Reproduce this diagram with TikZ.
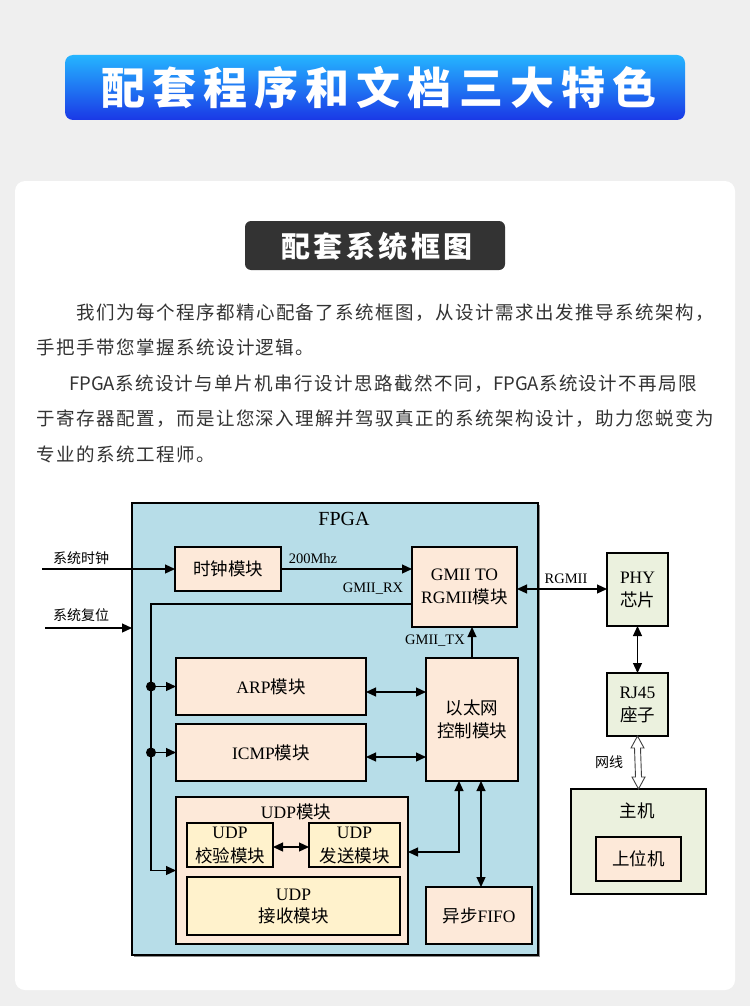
\documentclass[tikz,border=0pt]{standalone}
\usepackage{fontspec}
\setmainfont{Liberation Serif}
\newfontfamily\cjk{Noto Sans CJK SC}
\newfontfamily\cjkpara[LetterSpace=8]{Noto Sans CJK SC}
\newfontfamily\cjktitle[LetterSpace=16]{Noto Sans CJK SC}
\newfontfamily\cjksub[LetterSpace=12]{Noto Sans CJK SC}
\usetikzlibrary{arrows.meta,calc}
\definecolor{pagebg}{HTML}{EFEFEF}
\definecolor{fpgabg}{HTML}{B7DDE8}
\definecolor{peach}{HTML}{FDE9D9}
\definecolor{cream}{HTML}{FFF2CC}
\definecolor{sage}{HTML}{EBF1DE}
\definecolor{bluetop}{HTML}{25B5FF}
\definecolor{bluebot}{HTML}{1A38E6}
\definecolor{darkbox}{HTML}{333333}
\definecolor{txt}{HTML}{333333}
\begin{document}
\begin{tikzpicture}[x=1pt,y=-1pt,
  box/.style={draw=black, line width=1.2pt, inner sep=0pt, outer sep=0pt, align=center,
    font=\fontsize{17.5}{23}\selectfont, text=black},
  mod/.style={box, fill=peach},
  subm/.style={box, fill=cream},
  ext/.style={box, fill=sage},
  lbl/.style={font=\fontsize{14.5}{16}\selectfont, inner sep=0pt, text=black},
  para/.style={font=\cjkpara\fontsize{18.5}{20}\selectfont, text=txt, inner sep=0pt, anchor=base west},
  conn/.style={line width=1.2pt},
  arr/.style={conn, -{Triangle[length=10pt,width=9pt]}},
  darr/.style={conn, {Triangle[length=10pt,width=9pt]}-{Triangle[length=10pt,width=9pt]}},
  dotn/.style={circle, fill=black, inner sep=0pt, minimum size=10pt}
]
\useasboundingbox (0,0) rectangle (750,1006);
\fill[pagebg] (0,0) rectangle (750,1006);
% banner
\shade[top color=bluetop, bottom color=bluebot, rounded corners=8pt] (65,55) rectangle (685,120);
\node[font=\cjktitle\bfseries\fontsize{44}{50}\selectfont, text=white, inner sep=0pt] (title) at (379,88) {配套程序和文档三大特色};
% card
\fill[white, rounded corners=10pt] (15,181) rectangle (735,990);
\fill[darkbox, rounded corners=6pt] (245,221) rectangle (505,270);
\node[font=\cjksub\bfseries\fontsize{29}{32}\selectfont, text=white, inner sep=0pt] (subtitle) at (377,246) {配套系统框图};
% paragraph
\node[para] (p1) at (76,319) {我们为每个程序都精心配备了系统框图，从设计需求出发推导系统架构，};
\node[para] (p2) at (36,354.5) {手把手带您掌握系统设计逻辑。};
\node[para] (p3) at (69,390) {{\cjk FPGA}系统设计与单片机串行设计思路截然不同，{\cjk FPGA}系统设计不再局限};
\node[para] (p4) at (36,425.5) {于寄存器配置，而是让您深入理解并驾驭真正的系统架构设计，助力您蜕变为};
\node[para] (p5) at (36,461) {专业的系统工程师。};
% FPGA box
\fill[black!45] (134,505) rectangle (540,957);
\node[box, fill=fpgabg, line width=1.6pt, minimum width=406pt, minimum height=452pt] (fpga) at (335,729) {};
\node[font=\fontsize{20}{22}\selectfont, inner sep=0pt] (fpgat) at (344,519) {FPGA};
% modules
\node[mod, minimum width=106pt, minimum height=44pt] (clk) at (228,569) {{\cjk 时钟模块}};
\node[mod, minimum width=105pt, minimum height=80pt] (gmii) at (464.5,587) {GMII TO\\RGMII{\cjk 模块}};
\node[mod, minimum width=190pt, minimum height=57pt] (arp) at (271,686.5) {ARP{\cjk 模块}};
\node[mod, minimum width=190pt, minimum height=57pt] (icmp) at (271,752.5) {ICMP{\cjk 模块}};
\node[mod, minimum width=92pt, minimum height=123pt] (eth) at (472,719.5) {{\cjk 以太网}\\{\cjk 控制模块}};
\node[mod, minimum width=232pt, minimum height=147pt] (udp) at (292,870.5) {};
\node[font=\fontsize{17.5}{20}\selectfont, inner sep=0pt] (udpt) at (296,812) {UDP{\cjk 模块}};
\node[subm, minimum width=86pt, minimum height=44pt, font=\fontsize{17.5}{24}\selectfont] (chk) at (230,845) {UDP\\{\cjk 校验模块}};
\node[subm, minimum width=91pt, minimum height=44pt, font=\fontsize{17.5}{24}\selectfont] (send) at (354.5,845) {UDP\\{\cjk 发送模块}};
\node[subm, minimum width=213pt, minimum height=58pt, font=\fontsize{17.5}{22}\selectfont] (recv) at (293.5,906) {UDP\\{\cjk 接收模块}};
\node[mod, minimum width=106pt, minimum height=57pt] (fifo) at (479,915.5) {{\cjk 异步}FIFO};
% external
\node[ext, minimum width=61pt, minimum height=73pt] (phy) at (637.5,589.5) {PHY\\{\cjk 芯片}};
\node[ext, minimum width=61pt, minimum height=63pt] (rj) at (637.5,704.5) {RJ45\\{\cjk 座子}};
\node[ext, minimum width=135pt, minimum height=105pt] (host) at (638.5,841.5) {};
\node[font=\cjk\fontsize{17.5}{20}\selectfont, inner sep=0pt] (hostt) at (637,811) {主机};
\node[mod, minimum width=85pt, minimum height=44pt] (pc) at (638.5,859) {{\cjk 上位机}};
% inputs
\coordinate (clkin) at (42,569);
\coordinate (rstin) at (45,628);
\draw[arr] (clkin) -- (clk.west);
\node[lbl, font=\cjk\fontsize{14}{16}\selectfont] (clkl) at (81,558) {系统时钟};
\draw[arr] (rstin) -- (fpga.west |- rstin);
\node[lbl, font=\cjk\fontsize{14}{16}\selectfont] (rstl) at (81,615) {系统复位};
% clock to gmii
\draw[arr] (clk.east) -- (clk.east -| gmii.west);
\node[lbl] (mhz) at (313,559) {200Mhz};
% GMII_RX bus
\coordinate (rxc) at (151,604);
\draw[arr] (gmii.west |- rxc) -- (rxc) |- (udp.west);
\node[lbl] (rxl) at (373,589) {GMII\_RX};
\node[dotn] (d1) at (151,686.5) {};
\node[dotn] (d2) at (151,752.5) {};
\draw[arr] (d1) -- (arp.west);
\draw[arr] (d2) -- (icmp.west);
% GMII_TX
\draw[arr] (eth.north) -- (eth.north |- gmii.south);
\node[lbl] (txl) at (435,641) {GMII\_TX};
% arp/icmp to eth
\coordinate (a1) at (366,692);
\coordinate (a2) at (366,757);
\draw[darr] (arp.east |- a1) -- (eth.west |- a1);
\draw[darr] (icmp.east |- a2) -- (eth.west |- a2);
% udp to eth
\coordinate (u1) at (459,852);
\draw[darr] (udp.east |- u1) -- (u1) -- (u1 |- eth.south);
% eth to fifo
\coordinate (f1) at (481,835);
\draw[darr] (f1 |- eth.south) -- (f1 |- fifo.north);
% chk to send
\coordinate (c1) at (290,847);
\draw[darr] (chk.east |- c1) -- (send.west |- c1);
% RGMII
\coordinate (rg) at (560,589);
\draw[darr] (gmii.east |- rg) -- (phy.west |- rg);
\node[lbl] (rgl) at (566,579) {RGMII};
% phy to rj45
\draw[darr] (phy.south) -- (rj.north);
% network cable hollow arrow
\draw[black!75, fill=white, line width=0.9pt]
  (rj.south) -- ($(rj.south)+(6.5,12)$) -- ($(rj.south)+(3,12)$)
  -- ($(host.north)+(3,-12)$) -- ($(host.north)+(6.5,-12)$) -- (host.north)
  -- ($(host.north)+(-6.5,-12)$) -- ($(host.north)+(-3,-12)$)
  -- ($(rj.south)+(-3,12)$) -- ($(rj.south)+(-6.5,12)$) -- cycle;
\node[lbl, font=\cjk\fontsize{14}{16}\selectfont] (netl) at (609,762) {网线};
\end{tikzpicture}
\end{document}
